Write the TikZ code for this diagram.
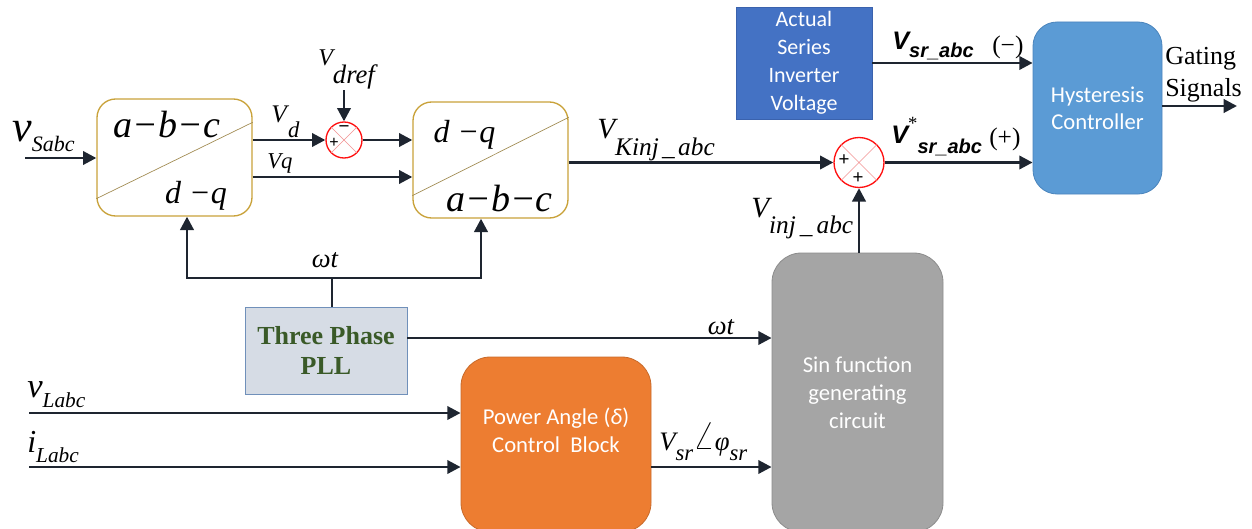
\documentclass[tikz,border=0pt]{standalone}
\usepackage{fontspec}
\usepackage{graphicx}
\setmainfont{Liberation Serif}
\newfontfamily\calfont{Carlito}
\newfontfamily\arfont{Liberation Sans}
\usetikzlibrary{arrows.meta,calc}
\definecolor{lnC}{HTML}{1E2530}
\definecolor{goldC}{HTML}{C9A23A}
\definecolor{diagC}{HTML}{A08A50}
\definecolor{sumC}{HTML}{FF1010}
\definecolor{xC}{HTML}{F29090}
\definecolor{actC}{HTML}{4472C4}
\definecolor{actB}{HTML}{3A62AD}
\definecolor{hysC}{HTML}{5B9BD5}
\definecolor{hysB}{HTML}{4A84BC}
\definecolor{orC}{HTML}{ED7D31}
\definecolor{orB}{HTML}{C86A2A}
\definecolor{grC}{HTML}{A5A5A5}
\definecolor{grB}{HTML}{8C8C8C}
\definecolor{pllC}{HTML}{D6DCE5}
\definecolor{pllB}{HTML}{7090BA}
\definecolor{pllT}{HTML}{3A5A28}
\newcommand\fs[2]{\fontsize{#1}{#2}\selectfont}
\newcommand\dn[2]{\raisebox{-#1}{#2}}
\begin{document}
\begin{tikzpicture}[x=0.75pt,y=-0.75pt,
  arr/.style={draw=lnC, line width=2.1pt, -{Triangle[length=10pt,width=10pt]}},
  ln/.style={draw=lnC, line width=2.1pt},
  conv/.style={draw=goldC, line width=1pt, rounded corners=14pt, fill=white},
  sumnode/.style={circle, draw=sumC, line width=1pt, fill=white, inner sep=0},
  blk/.style={text=white, align=center},
  lbl/.style={inner sep=0, anchor=base west},
  ctr/.style={inner sep=0, anchor=base},
  sign/.style={inner sep=0, font=\arfont\fs{12}{12}},
]
\useasboundingbox (0,0) rectangle (1252,528);

% converter blocks
\node[conv, minimum width=116.25pt, minimum height=87.75pt] (b1) at (174.5,157.5) {};
\draw[diagC, line width=0.5pt] ($(b1.south west)+(0,-18)$) -- ($(b1.north east)+(0,24)$);
\node[ctr, font=\itshape\fs{28.5}{30}] (t1) at (167,137) {a−b−c};
\node[ctr, font=\itshape\fs{24}{26}] (t2) at (196,203) {d −q};

\node[conv, minimum width=116.25pt, minimum height=87pt] (b2) at (490.5,160) {};
\draw[diagC, line width=0.5pt] ($(b2.south west)+(0,-23)$) -- ($(b2.north east)+(0,16)$);
\node[ctr, font=\itshape\fs{24}{26}] (t3) at (464.5,142) {d −q};
\node[ctr, font=\itshape\fs{28.5}{30}] (t4) at (499.5,211) {a−b−c};

% summing junctions
\node[sumnode, minimum size=27pt] (s1) at (344,140) {};
\draw[xC, line width=0.5pt] (s1.north east) -- (s1.south west) (s1.north west) -- (s1.south east);
\node[sign, font=\arfont\fs{14}{14}] (s1m) at (344,129) {−};
\node[sign] (s1p) at (334,143) {+};

\node[sumnode, minimum size=37.5pt] (s2) at (859,162.5) {};
\draw[xC, line width=0.5pt] (s2.north east) -- (s2.south west) (s2.north west) -- (s2.south east);
\node[sign, font=\arfont\fs{14}{14}] (s2a) at (844,160) {+};
\node[sign, font=\arfont\fs{14}{14}] (s2b) at (858,178) {+};

% coloured blocks
\node[fill=actC, draw=actB, line width=0.6pt, minimum width=102pt, minimum height=82.5pt, blk, font=\calfont\fs{16.5}{21}] (act) at (804,63) {Actual\\Series\\Inverter\\Voltage};
\node[fill=hysC, draw=hysB, line width=0.6pt, rounded corners=18pt, minimum width=96.75pt, minimum height=129pt, blk, font=\calfont\fs{17}{20}] (hy) at (1097.5,108) {Hysteresis\\Controller};
\node[fill=pllC, draw=pllB, line width=0.7pt, minimum width=121.5pt, minimum height=65.25pt, align=center, text=pllT, font=\bfseries\fs{19.5}{23}] (pll) at (326,350.5) {Three Phase\\PLL};
\node[fill=orC, draw=orB, line width=0.6pt, rounded corners=22pt, minimum width=142.5pt, minimum height=131.25pt] (pw) at (556,444.5) {};
\node[blk, inner sep=0, font=\calfont\fs{17}{21}] (pwt) at (556,430) {Power Angle (\textit{δ})\\Control~~Block};
\node[fill=grC, draw=grB, line width=0.6pt, rounded corners=22pt, minimum width=128.25pt, minimum height=209.25pt, blk, font=\calfont\fs{17}{21}] (sin) at (857.5,392.5) {Sin function\\generating\\circuit};

% connectors
\coordinate (vin) at (25,158);
\draw[arr] (vin) -- (vin -| b1.west);
\draw[arr] (s1.west -| b1.east) -- (s1.west);
\coordinate (dref) at (344,90);
\draw[arr] (dref) -- (s1.north);
\draw[arr] (s1.east) -- (s1.east -| b2.west);
\coordinate (vq) at (0,177);
\draw[arr] (vq -| b1.east) -- (vq -| b2.west);
\draw[arr] (s2.west -| b2.east) -- (s2.west);
\draw[arr] (s2.east) -- (s2.east -| hy.west);
\draw[arr] (act.east) -- (act.east -| hy.west);
\coordinate (gs) at (1237,106);
\draw[arr] (gs -| hy.east) -- (gs);
\draw[arr] (sin.north -| s2.south) -- (s2.south);

\coordinate (wtL) at (187,278);
\coordinate (wtR) at (481,278);
\coordinate (wtM) at (332,278);
\draw[ln] (wtM |- pll.north) -- (wtM);
\draw[arr] (wtM) -- (wtL) -- (wtL |- b1.south);
\draw[arr] (wtM) -- (wtR) -- (wtR |- b2.south);
\coordinate (wt2) at (0,338);
\draw[arr] (wt2 -| pll.east) -- (wt2 -| sin.west);
\coordinate (vL) at (29,413);
\coordinate (iL) at (29,467);
\draw[arr] (vL) -- (vL -| pw.west);
\draw[arr] (iL) -- (iL -| pw.west);
\draw[arr] (iL -| pw.east) -- (iL -| sin.west);

% labels
\node[lbl, font=\itshape\fs{33}{33}] (lvs) at (12,141) {v\dn{7.5pt}{\fs{16.5}{16.5}Sabc}};
\node[lbl, font=\itshape\fs{19}{19}] (lvd) at (271,122) {V\dn{12pt}{\fs{17}{17}\hspace{1pt}d}};
\node[lbl, font=\itshape\fs{17}{17}] (lvq) at (267,168) {Vq};
\node[lbl, font=\itshape\fs{18}{18}] (ldr) at (318,65) {V\dn{13.5pt}{\fs{20}{20}dref}};
\node[lbl, font=\itshape\fs{22}{22}] (lvk) at (597,138) {V\dn{12.75pt}{\fs{19}{19}Kinj\hspace{2.5pt}\_\hspace{2.5pt}abc}};
\node[lbl, font=\itshape\fs{22}{22}] (lvi) at (751,217) {V\dn{12pt}{\fs{19}{19}inj\hspace{3pt}\_\hspace{3pt}abc}};
\node[lbl, font=\arfont\bfseries\itshape\fs{19}{19}] (lsr1) at (892,50) {V\dn{6pt}{\fs{15}{15}sr\_abc}};
\node[lbl, font=\fs{19}{19}] (lm) at (992,54) {(−)};
\node[lbl, font=\arfont\bfseries\itshape\fs{19}{19}] (lsr2) at (891,143) {V\raisebox{10pt}{\normalfont\fs{14}{14}*}\dn{7.5pt}{\fs{15}{15}sr\_abc}};
\node[lbl, font=\fs{19}{19}] (lp) at (989,145) {(+)};
\node[inner sep=0, anchor=north west, align=left, font=\fs{19.5}{24}] (gt) at (1165,47) {Gating\\Signals};
\node[ctr, font=\itshape\fs{20}{20}] (lwt1) at (325,267) {ωt};
\node[ctr, font=\itshape\fs{20}{20}] (lwt2) at (721,334) {ωt};
\node[lbl, font=\itshape\fs{20}{20}] (lvsr) at (659,450) {V\dn{7.5pt}{\fs{17}{17}sr}\raisebox{1pt}{\scalebox{1.45}{$\angle$}}φ\dn{7.5pt}{\fs{17}{17}sr}};
\node[lbl, font=\itshape\fs{26}{26}] (lvl) at (27,397) {v\dn{8pt}{\fs{16}{16}Labc}};
\node[lbl, font=\itshape\fs{24}{24}] (lil) at (27,452) {i\dn{7.5pt}{\fs{16}{16}Labc}};
\end{tikzpicture}
\end{document}
